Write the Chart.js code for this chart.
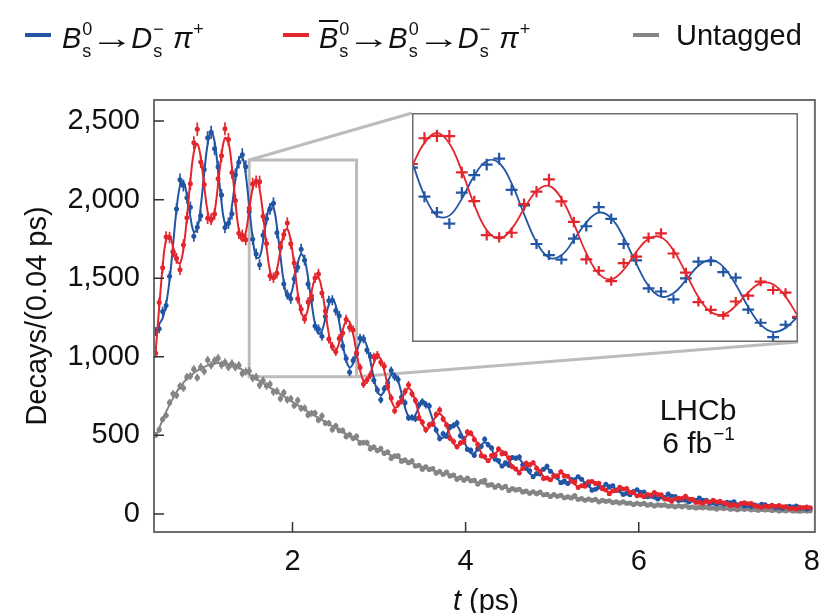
<!DOCTYPE html>
<html><head><meta charset="utf-8">
<script src="https://cdn.jsdelivr.net/npm/chart.js@4/dist/chart.umd.min.js"></script>
<style>
html,body{margin:0;padding:0;background:#fff;}
body{width:833px;height:613px;overflow:hidden;position:relative;font-family:"Liberation Sans",Arial,Helvetica,sans-serif;color:#111;}
#main{position:absolute;left:0;top:0;}
#inset{position:absolute;left:412px;top:113px;}
.sw{position:absolute;top:33px;width:26px;height:4px;}
.lt{position:absolute;top:18px;font-size:29px;line-height:34px;white-space:nowrap;}
.lt i{font-style:italic;}
.ar{display:inline-block;font-size:30px;transform:scaleX(1.45);margin:0 4px 0 4px;}
.ss{display:inline-flex;flex-direction:column;font-size:18px;line-height:22px;vertical-align:13px;margin-left:1px;margin-right:1px;}
.ob{text-decoration:overline;text-decoration-thickness:2px;}
</style>
</head><body>
<canvas id="main" width="833" height="613"></canvas>
<canvas id="inset" width="386" height="229"></canvas>

<div class="sw" style="left:25px;background:#2255a4"></div>
<div class="lt" style="left:62px"><i>B</i><span class="ss"><span>0</span><span>s</span></span><span class="ar">→</span><i>D</i><span class="ss"><span>−</span><span>s</span></span> <i>π</i><span class="ss"><span>+</span><span>&nbsp;</span></span></div>
<div class="sw" style="left:283px;background:#e3262d"></div>
<div class="lt" style="left:319px"><i class="ob">B</i><span class="ss"><span>0</span><span>s</span></span><span class="ar">→</span><i>B</i><span class="ss"><span>0</span><span>s</span></span><span class="ar">→</span><i>D</i><span class="ss"><span>−</span><span>s</span></span> <i>π</i><span class="ss"><span>+</span><span>&nbsp;</span></span></div>
<div class="sw" style="left:633px;background:#858585"></div>
<div class="lt" style="left:676px">Untagged</div>

<script>
// ---- data (t = bin centres, ps; values = decays per 0.04 ps) ----
const t = [
0.42,0.46,0.50,0.54,0.58,0.62,0.66,0.70,0.74,0.78,
0.82,0.86,0.90,0.94,0.98,1.02,1.06,1.10,1.14,1.18,
1.22,1.26,1.30,1.34,1.38,1.42,1.46,1.50,1.54,1.58,
1.62,1.66,1.70,1.74,1.78,1.82,1.86,1.90,1.94,1.98,
2.02,2.06,2.10,2.14,2.18,2.22,2.26,2.30,2.34,2.38,
2.42,2.46,2.50,2.54,2.58,2.62,2.66,2.70,2.74,2.78,
2.82,2.86,2.90,2.94,2.98,3.02,3.06,3.10,3.14,3.18,
3.22,3.26,3.30,3.34,3.38,3.42,3.46,3.50,3.54,3.58,
3.62,3.66,3.70,3.74,3.78,3.82,3.86,3.90,3.94,3.98,
4.02,4.06,4.10,4.14,4.18,4.22,4.26,4.30,4.34,4.38,
4.42,4.46,4.50,4.54,4.58,4.62,4.66,4.70,4.74,4.78,
4.82,4.86,4.90,4.94,4.98,5.02,5.06,5.10,5.14,5.18,
5.22,5.26,5.30,5.34,5.38,5.42,5.46,5.50,5.54,5.58,
5.62,5.66,5.70,5.74,5.78,5.82,5.86,5.90,5.94,5.98,
6.02,6.06,6.10,6.14,6.18,6.22,6.26,6.30,6.34,6.38,
6.42,6.46,6.50,6.54,6.58,6.62,6.66,6.70,6.74,6.78,
6.82,6.86,6.90,6.94,6.98,7.02,7.06,7.10,7.14,7.18,
7.22,7.26,7.30,7.34,7.38,7.42,7.46,7.50,7.54,7.58,
7.62,7.66,7.70,7.74,7.78,7.82,7.86,7.90,7.94,7.98];

const blueFit = [
1151,1207,1246,1334,1489,1710,1936,2086,2113,2026,
1891,1796,1815,1955,2168,2354,2433,2368,2188,1984,
1848,1841,1958,2127,2257,2272,2159,1958,1756,1634,
1634,1735,1874,1963,1951,1828,1643,1474,1381,1395,
1488,1594,1652,1619,1502,1346,1210,1146,1167,1245,
1332,1367,1326,1219,1084,977,933,958,1028,1092,
1111,1066,972,863,783,756,783,839,885,891,
847,765,678,619,604,631,677,709,708,666,
599,532,489,484,509,545,568,562,523,468,
417,387,387,410,439,454,445,411,366,327,
307,311,331,353,363,350,323,287,257,244,
250,267,283,289,277,252,224,202,195,201,
215,227,229,218,197,175,160,155,162,174,
183,183,172,155,138,126,125,131,141,146,
145,136,121,108,100,99,106,113,117,114,
106,94,85,80,80,85,91,94,90,83,
74,66,63,64,68,73,75,72,65,58,
52,50,51,55,58,59,57,51,45,41,
40,41,44,46,47,44,40,35,32,32];

const redFit = [
1039,1313,1574,1746,1771,1700,1614,1594,1687,1884,
2119,2300,2355,2269,2088,1922,1855,1922,2096,2284,
2392,2363,2206,1989,1807,1736,1791,1932,2072,2132,
2068,1903,1700,1547,1495,1554,1675,1782,1813,1737,
1584,1408,1284,1251,1308,1414,1494,1504,1425,1287,
1144,1053,1038,1091,1172,1227,1221,1146,1028,916,
849,846,896,961,999,984,913,815,727,679,
685,727,776,799,778,717,637,571,540,550,
587,624,637,614,561,499,448,430,443,474,
501,507,485,440,389,354,343,357,382,401,
403,381,343,305,279,274,287,307,321,320,
300,269,239,221,219,232,248,258,253,235,
211,187,175,176,187,199,206,201,186,164,
147,139,142,151,160,164,159,145,129,116,
111,114,121,128,130,125,114,101,91,88,
92,98,103,104,98,89,79,72,70,73,
78,82,83,78,70,61,57,56,59,64,
66,66,61,55,48,45,45,47,51,53,
52,47,42,38,35,36,38,41,42,40];

const grayFit = [
490,545,600,650,695,737,775,808,836,860,
880,897,912,925,936,945,952,957,960,960,
958,954,948,940,930,918,903,888,874,860,
846,832,818,804,790,776,762,748,734,720,
706,692,678,664,650,637,624,611,598,585,
572,559,546,533,521,509,497,485,474,463,
452,441,431,421,411,402,392,383,373,364,
355,347,338,330,322,314,307,299,292,285,
278,271,264,258,252,245,239,234,228,222,
217,212,207,201,197,192,187,183,178,174,
169,165,161,157,154,150,146,143,139,136,
133,129,126,123,120,117,114,111,109,106,
103,101,98,96,94,91,89,87,85,83,
81,79,77,75,73,71,70,68,66,65,
63,62,60,59,57,56,55,53,52,51,
49,48,47,46,45,43,42,41,40,39,
38,37,36,36,35,34,33,32,31,31,
30,29,28,28,27,26,26,25,24,24,
23,23,22,21,21,20,20,19,19,18];

const blueData = [
1161,1179,1288,1327,1512,1669,1940,2127,2090,2012,
1951,1767,1824,1898,2192,2393,2428,2324,2207,2029,
1822,1850,1910,2159,2238,2286,2210,1923,1748,1654,
1586,1773,1878,1941,1977,1789,1696,1463,1396,1369,
1496,1570,1685,1615,1463,1364,1196,1177,1130,1256,
1357,1360,1294,1261,1068,989,902,977,1018,1118,
1114,1043,1003,851,789,726,797,833,912,873,
856,743,707,612,614,606,693,714,694,687,
577,534,480,510,495,552,563,579,498,479,
411,405,373,414,429,475,441,419,349,338,
305,325,309,359,355,363,312,290,275,236,
256,254,285,304,272,241,233,199,209,193,
219,212,237,220,191,185,151,157,174,167,
189,170,180,153,151,123,131,122,143,154,
138,140,110,112,108,95,107,105,127,112,
111,85,88,89,76,87,85,101,87,87,
67,71,62,71,62,75,71,78,57,62,
51,55,47,57,51,62,58,47,51,39,
44,36,45,49,44,50,36,37,31,36];

const redData = [
1023,1345,1566,1763,1758,1667,1626,1554,1712,1884,
2101,2362,2448,2240,2097,1882,1876,1909,2133,2279,
2451,2383,2173,1994,1786,1774,1745,1945,2100,2114,
2113,1894,1721,1516,1503,1531,1704,1778,1852,1720,
1596,1370,1302,1240,1348,1387,1502,1527,1406,1291,
1113,1066,1032,1117,1152,1237,1186,1170,1025,931,
826,852,884,998,1009,965,940,809,738,656,
701,719,779,821,764,722,612,583,535,566,
573,632,662,604,566,481,461,428,451,459,
521,514,474,442,371,364,339,372,374,413,
383,385,356,300,286,260,289,323,312,325,
290,272,225,229,218,244,242,268,242,240,
208,201,168,179,176,205,207,193,196,160,
153,128,146,149,170,158,162,137,136,115,
121,110,124,119,136,123,122,95,93,80,
96,99,98,112,95,94,73,74,67,81,
76,87,76,81,69,67,53,59,52,66,
71,64,67,51,49,42,50,46,55,47,
54,46,46,35,36,32,43,39,44,39];

const grayData = [
503,536,602,628,708,764,755,814,801,872,
877,921,867,934,908,979,946,976,991,948,
964,935,957,934,945,894,906,909,865,872,
820,849,815,826,776,782,734,772,726,734,
690,723,673,674,630,640,642,598,624,578,
577,537,560,531,530,493,504,481,494,452,
454,454,414,425,403,416,386,393,354,368,
370,336,343,326,338,305,309,285,299,283,
288,260,269,252,266,242,247,220,231,215,
228,211,213,190,205,213,183,186,170,181,
166,175,149,161,153,157,140,145,131,141,
129,139,122,124,111,123,112,119,103,109,
102,117,93,98,87,95,87,92,77,86,
80,84,72,77,69,77,68,69,60,68,
61,67,56,61,51,58,54,58,49,52,
45,52,46,52,41,44,38,43,39,43,
36,38,31,39,34,38,30,33,27,33,
29,33,26,29,23,29,25,28,22,26,
19,24,20,25,19,20,17,21,18,20];

const yTicks = [0, 500, 1000, 1500, 2000, 2500];
const xTicks = [2, 4, 6, 8];
const zoomT = [1.5, 2.74];     // zoomed time window shown in the inset
const zoomY = [873, 2252];     // zoomed count window shown in the inset

// ---- styles ----
const BLUE = '#2255a4', RED = '#e3262d', GRAY = '#858585';
const FONT = '"Liberation Sans", Arial, Helvetica, sans-serif';
const INSET = {left: 412, top: 113, w: 386, h: 229};
Chart.defaults.font.family = FONT;

function pts(arr) { return t.map((x, i) => ({x: x, y: arr[i]})); }

const errPlugin = {
  id: 'errbars',
  afterDatasetDraw(chart, args, opts) {
    const ds = chart.data.datasets[args.index];
    if (!ds.errBars) return;
    const xs = chart.scales.x, ys = chart.scales.y, ctx = chart.ctx, ca = chart.chartArea;
    const k = opts.scale || 1, hw = opts.halfBin || 0.02;
    ctx.save();
    ctx.beginPath(); ctx.rect(ca.left, ca.top, ca.right - ca.left, ca.bottom - ca.top); ctx.clip();
    ctx.strokeStyle = ds.borderColor; ctx.lineWidth = opts.lw || 1.5;
    ctx.beginPath();
    ds.data.forEach(p => {
      const e = Math.sqrt(Math.max(p.y, 1)) * k;
      const px = xs.getPixelForValue(p.x), py = ys.getPixelForValue(p.y);
      ctx.moveTo(px, ys.getPixelForValue(p.y - e)); ctx.lineTo(px, ys.getPixelForValue(p.y + e));
      ctx.moveTo(xs.getPixelForValue(p.x - hw), py); ctx.lineTo(xs.getPixelForValue(p.x + hw), py);
    });
    ctx.stroke();
    ctx.restore();
  }
};

const mainDeco = {
  id: 'mainDeco',
  beforeDatasetsDraw(chart) {
    const {ctx} = chart, x = chart.scales.x, y = chart.scales.y;
    const x1 = x.getPixelForValue(zoomT[0]), x2 = x.getPixelForValue(zoomT[1]);
    const y1 = y.getPixelForValue(zoomY[1]), y2 = y.getPixelForValue(zoomY[0]);
    ctx.save();
    ctx.strokeStyle = '#bcbcbc'; ctx.lineWidth = 3;
    ctx.strokeRect(x1, y1, x2 - x1, y2 - y1);
    ctx.beginPath();
    ctx.moveTo(x1, y1); ctx.lineTo(INSET.left, INSET.top);
    ctx.moveTo(x2, y2); ctx.lineTo(INSET.left + INSET.w, INSET.top + INSET.h);
    ctx.stroke();
    ctx.restore();
  },
  afterDraw(chart) {
    const {ctx, chartArea: ca} = chart, x = chart.scales.x, y = chart.scales.y;
    ctx.save();
    ctx.strokeStyle = '#6c6c6c'; ctx.lineWidth = 2;
    ctx.strokeRect(ca.left, ca.top, ca.right - ca.left, ca.bottom - ca.top);
    ctx.strokeStyle = '#333'; ctx.lineWidth = 1.5;
    ctx.beginPath();
    yTicks.forEach(v => { const p = y.getPixelForValue(v); ctx.moveTo(ca.left, p); ctx.lineTo(ca.left + 10, p); });
    xTicks.forEach(v => { const p = x.getPixelForValue(v); if (p < ca.right - 4) { ctx.moveTo(p, ca.bottom); ctx.lineTo(p, ca.bottom - 10); } });
    ctx.stroke();
    // texts
    ctx.fillStyle = '#111';
    ctx.textBaseline = 'alphabetic';
    ctx.font = '30px ' + FONT;
    ctx.textAlign = 'center';
    ctx.fillText('LHCb', 698, 420);
    const a = '6 fb';
    ctx.font = '30px ' + FONT; const wa = ctx.measureText(a).width;
    ctx.font = '19px ' + FONT; const wb = ctx.measureText('\u22121').width;
    const sx = 698 - (wa + wb) / 2;
    ctx.textAlign = 'left';
    ctx.font = '30px ' + FONT; ctx.fillText(a, sx, 453);
    ctx.font = '19px ' + FONT; ctx.fillText('\u22121', sx + wa + 1, 440);
    // y title
    ctx.save();
    ctx.translate(38, 316); ctx.rotate(-Math.PI / 2);
    ctx.font = '29px ' + FONT; ctx.textAlign = 'center'; ctx.textBaseline = 'middle';
    ctx.fillText('Decays/(0.04 ps)', 0, 0);
    ctx.restore();
    // x title
    ctx.font = 'italic 29px ' + FONT; const wt = ctx.measureText('t').width;
    ctx.font = '29px ' + FONT; const wr = ctx.measureText(' (ps)').width;
    const tx = 486 - (wt + wr) / 2;
    ctx.textAlign = 'left'; ctx.textBaseline = 'alphabetic';
    ctx.font = 'italic 29px ' + FONT; ctx.fillText('t', tx, 610);
    ctx.font = '29px ' + FONT; ctx.fillText(' (ps)', tx + wt, 610);
    ctx.restore();
  }
};

function fitSet(arr, col, order, bw) {
  return {data: pts(arr), borderColor: col, backgroundColor: col, borderWidth: bw, pointRadius: 0, tension: 0.4, fill: false, order: order};
}
function dataSet(arr, col, order, r) {
  return {data: pts(arr), borderColor: col, backgroundColor: col, showLine: false, pointRadius: r, pointBorderWidth: 0, errBars: true, order: order};
}

new Chart(document.getElementById('main'), {
  type: 'line',
  data: {datasets: [
    fitSet(grayFit, GRAY, 6, 2), dataSet(grayData, GRAY, 5, 2.6),
    fitSet(blueFit, BLUE, 4, 2), dataSet(blueData, BLUE, 3, 2.5),
    fitSet(redFit, RED, 2, 2), dataSet(redData, RED, 1, 2.5)
  ]},
  options: {
    responsive: false, animation: false, devicePixelRatio: 1,
    layout: {padding: {top: 100, right: 15, left: 0, bottom: 0}},
    plugins: {legend: {display: false}, tooltip: {enabled: false}, errbars: {lw: 1.7, scale: 0.85, halfBin: 0.022}},
    events: [],
    scales: {
      x: {type: 'linear', min: 0.40, max: 8.035,
        afterFit(s) { s.height = 81; },
        afterBuildTicks(s) { s.ticks = xTicks.map(v => ({value: v})); },
        grid: {display: false, drawTicks: false}, border: {display: false},
        ticks: {font: {size: 29}, color: '#111', padding: 13, maxRotation: 0, autoSkip: false}},
      y: {type: 'linear', min: -115, max: 2634,
        afterFit(s) { s.width = 154; },
        afterBuildTicks(s) { s.ticks = yTicks.map(v => ({value: v})); },
        grid: {display: false, drawTicks: false}, border: {display: false},
        ticks: {font: {size: 29}, color: '#111', padding: 14, autoSkip: false,
          callback: v => v.toLocaleString('en-US')}}
    }
  },
  plugins: [errPlugin, mainDeco]
});

const insetFrame = {
  id: 'insetFrame',
  beforeDraw(chart) { const c = chart.ctx; c.save(); c.fillStyle = '#fff'; c.fillRect(0, 0, chart.width, chart.height); c.restore(); },
  afterDraw(chart) {
    const c = chart.ctx; c.save(); c.strokeStyle = '#6c6c6c'; c.lineWidth = 1.5;
    c.strokeRect(0.75, 0.75, chart.width - 1.5, chart.height - 1.5); c.restore();
  }
};

new Chart(document.getElementById('inset'), {
  type: 'line',
  data: {datasets: [
    fitSet(blueFit, BLUE, 4, 1.8), dataSet(blueData, BLUE, 3, 0),
    fitSet(redFit, RED, 2, 1.8), dataSet(redData, RED, 1, 0)
  ]},
  options: {
    responsive: false, animation: false, devicePixelRatio: 1,
    layout: {padding: 0}, events: [],
    plugins: {legend: {display: false}, tooltip: {enabled: false}, errbars: {lw: 2.2, scale: 0.8, halfBin: 0.019}},
    scales: {
      x: {type: 'linear', display: false, min: zoomT[0], max: zoomT[1]},
      y: {type: 'linear', display: false, min: zoomY[0], max: zoomY[1]}
    }
  },
  plugins: [errPlugin, insetFrame]
});
</script>
</body></html>
